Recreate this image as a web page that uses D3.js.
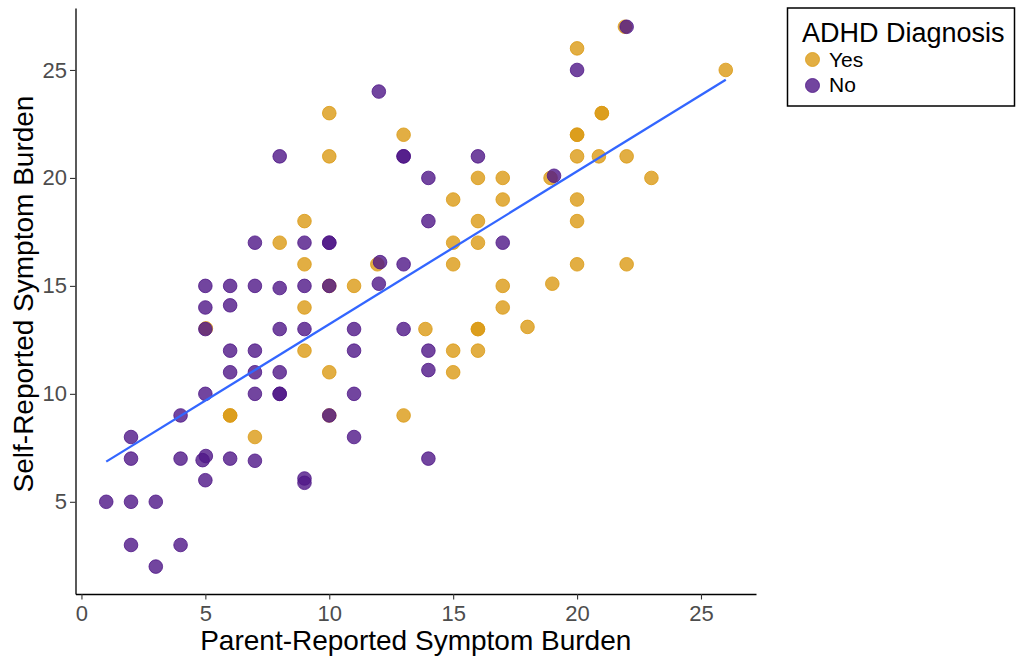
<!DOCTYPE html>
<html>
<head>
<meta charset="utf-8">
<script src="https://cdn.jsdelivr.net/npm/d3@7"></script>
<style>
  body { margin: 0; background: #fff; }
  text { font-family: "Liberation Sans", Arial, sans-serif; }
</style>
</head>
<body>
<div class="chart"></div>
<script>
// ADHD diagnosis = Yes
var yesParent = [10, 13, 10, 9, 8, 9, 11.94, 10, 11,
  21.93, 20, 26, 21, 21, 20, 20, 20, 20.88, 22, 16, 17, 18.93, 23, 15, 17, 20, 16, 20, 15, 16, 15, 20, 22, 17, 19,
  17, 13.88, 16, 16, 18, 15, 16, 15, 13,
  9, 5.02, 9, 10, 6, 6, 10, 7];
var yesSelf = [23, 22, 21, 18, 17, 16, 16, 15, 15,
  27, 26, 25, 23, 23, 22, 22, 21, 21, 21, 20, 20, 20, 20, 19, 19, 19, 18, 18, 17, 17, 16, 16, 16, 15, 15.1,
  14, 13, 13, 13, 13.1, 12, 12, 11, 9,
  14, 13.03, 12, 11, 9, 9, 9, 8];

// ADHD diagnosis = No
var noParent = [12, 8, 13, 13, 7, 9, 10, 10, 12.05, 13, 5, 6, 7, 8, 9, 10, 12,
  22, 20, 16, 14, 19.07, 14, 17,
  13, 14, 14, 14,
  5, 6, 5, 8, 9, 11, 6, 7, 11, 6, 7, 8, 5, 7, 8, 8, 11, 4, 10, 2, 11, 2, 4, 4.89, 5.02, 6, 7, 5, 9, 9,
  1, 2, 3, 2, 4, 3];
var noSelf = [24, 21, 21, 21, 17, 17, 17, 17, 16.1, 16, 15, 15, 15, 14.9, 15, 15, 15.1,
  27, 25, 21, 20, 20.1, 18, 17,
  13, 12, 11.1, 7,
  14, 14.1, 13, 13, 13, 13, 12, 12, 12, 11, 11, 11, 10, 10, 10, 10, 10, 9, 9, 8, 8, 7, 7, 6.93, 7.12, 7, 6.9, 6, 6.08, 5.88,
  5, 5, 5, 3, 3, 2];

var groups = ["Yes", "No"];
var groupColors = ["#DB9A14", "#4F1787"];
var xTicks = [0, 5, 10, 15, 20, 25];
var yTicks = [5, 10, 15, 20, 25];

var W = 1016, H = 660;
var panel = {left: 75.5, right: 756, top: 8, bottom: 594};

var svg = d3.select(".chart")
  .append("svg")
    .attr("width", W)
    .attr("height", H);

var x = d3.scaleLinear()
  .domain([-0.24, 27.22])
  .range([panel.left, panel.right]);

var y = d3.scaleLinear()
  .domain([0.73, 27.87])
  .range([panel.bottom, panel.top]);

var color = d3.scaleOrdinal().domain(groups).range(groupColors);

// build rows (Yes drawn first, No on top as in the original)
var data = [];
yesParent.forEach(function(v, i) { data.push({parent: v, self: yesSelf[i], dx: "Yes"}); });
noParent.forEach(function(v, i) { data.push({parent: v, self: noSelf[i], dx: "No"}); });

// X axis
var xAxis = svg.append("g")
  .attr("transform", "translate(0," + panel.bottom + ")")
  .call(d3.axisBottom(x).tickValues(xTicks).tickSize(5.5).tickSizeOuter(0).tickPadding(6));

// Y axis
var yAxis = svg.append("g")
  .attr("transform", "translate(" + panel.left + ",0)")
  .call(d3.axisLeft(y).tickValues(yTicks).tickSize(5.5).tickSizeOuter(0).tickPadding(3));

[xAxis, yAxis].forEach(function(a) {
  a.select(".domain").attr("stroke", "#000").attr("stroke-width", 1.3);
  a.selectAll(".tick line").attr("stroke", "#333").attr("stroke-width", 1.1);
  a.selectAll(".tick text")
    .attr("fill", "#4D4D4D")
    .style("font-size", "22px")
    .style("font-family", "'Liberation Sans', Arial, sans-serif");
});

// points
svg.append("g")
  .selectAll("circle")
  .data(data)
  .enter()
  .append("circle")
    .attr("cx", function(d) { return x(d.parent); })
    .attr("cy", function(d) { return y(d.self); })
    .attr("r", 6.8)
    .attr("fill", function(d) { return color(d.dx); })
    .attr("fill-opacity", 0.8)
    .attr("stroke", function(d) { return color(d.dx); })
    .attr("stroke-opacity", 0.8)
    .attr("stroke-width", 1);

// least squares fit over all points
var mx = d3.mean(data, function(d) { return d.parent; });
var my = d3.mean(data, function(d) { return d.self; });
var sxy = d3.sum(data, function(d) { return (d.parent - mx) * (d.self - my); });
var sxx = d3.sum(data, function(d) { return (d.parent - mx) * (d.parent - mx); });
var slope = sxy / sxx, intercept = my - slope * mx;
var xr = d3.extent(data, function(d) { return d.parent; });
var fit = xr.map(function(v) { return {parent: v, self: intercept + slope * v}; });

svg.append("path")
  .datum(fit)
  .attr("fill", "none")
  .attr("stroke", "#3366FF")
  .attr("stroke-width", 2.3)
  .attr("d", d3.line()
    .x(function(d) { return x(d.parent); })
    .y(function(d) { return y(d.self); }));

// axis titles
svg.append("text")
  .attr("x", (panel.left + panel.right) / 2)
  .attr("y", 650)
  .attr("text-anchor", "middle")
  .attr("fill", "#000")
  .style("font-size", "28px")
  .text("Parent-Reported Symptom Burden");

svg.append("text")
  .attr("transform", "translate(33,294) rotate(-90)")
  .attr("text-anchor", "middle")
  .attr("fill", "#000")
  .style("font-size", "28px")
  .text("Self-Reported Symptom Burden");

// legend
var legend = svg.append("g");
legend.append("rect")
  .attr("x", 787.5).attr("y", 8)
  .attr("width", 227).attr("height", 98)
  .attr("fill", "#fff")
  .attr("stroke", "#000")
  .attr("stroke-width", 1.5);
legend.append("text")
  .attr("x", 802).attr("y", 41.5)
  .attr("fill", "#000")
  .style("font-size", "27px")
  .text("ADHD Diagnosis");
groups.forEach(function(g, i) {
  legend.append("circle")
    .attr("cx", 812.5).attr("cy", 59.5 + i * 26)
    .attr("r", 7)
    .attr("fill", color(g)).attr("fill-opacity", 0.8)
    .attr("stroke", color(g)).attr("stroke-opacity", 0.8).attr("stroke-width", 1);
  legend.append("text")
    .attr("x", 829).attr("y", 67 + i * 25)
    .attr("fill", "#000")
    .style("font-size", "21px")
    .text(g);
});
</script>
</body>
</html>
